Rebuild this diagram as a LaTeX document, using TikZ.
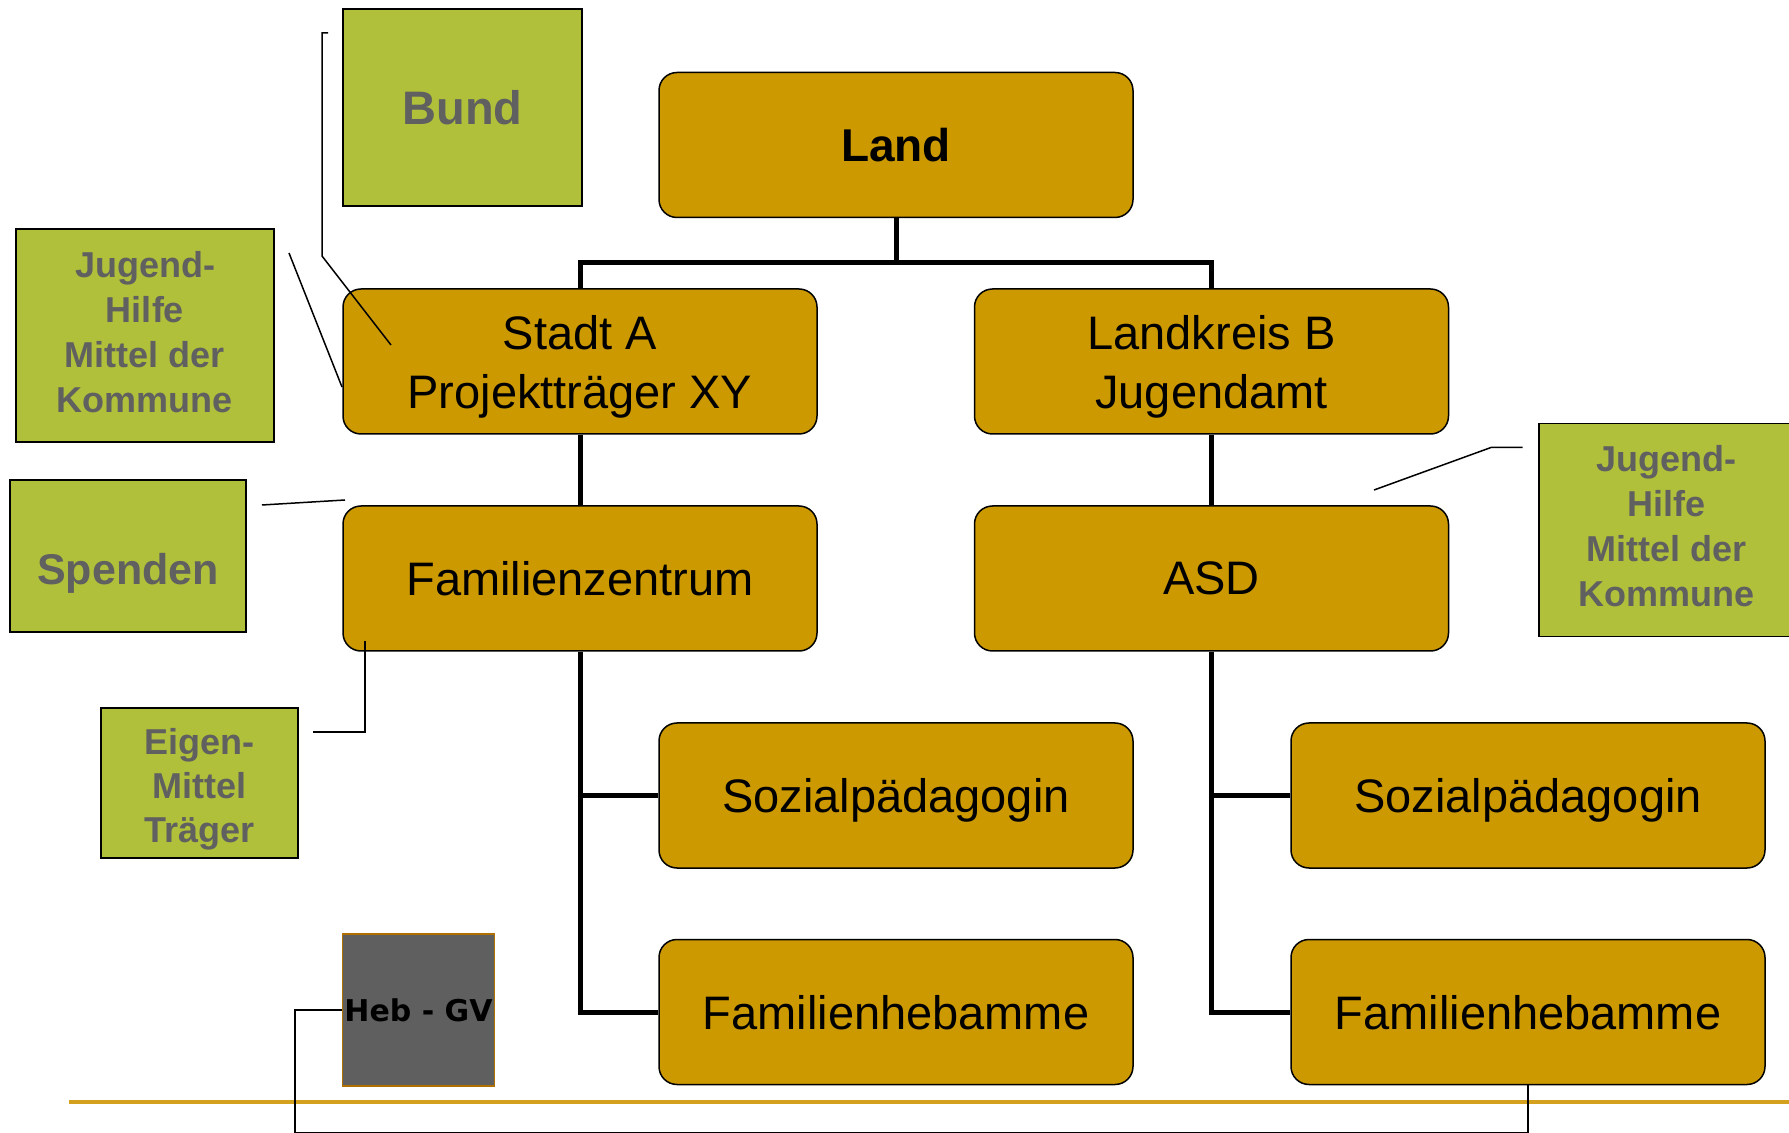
\documentclass[tikz,border=0pt]{standalone}
\usepackage{fontspec}
\setmainfont{Liberation Sans}
\newfontfamily\hebfont{DejaVu Sans}
\definecolor{orgfill}{RGB}{204,153,0}
\definecolor{grnfill}{RGB}{176,192,58}
\definecolor{grntext}{RGB}{96,96,96}
\definecolor{hebfill}{RGB}{95,95,95}
\definecolor{hebdraw}{RGB}{176,112,0}
\definecolor{rule}{RGB}{212,161,30}
\tikzset{
  orgbox/.style={draw=black, line width=0.75pt, fill=orgfill, rounded corners=9pt,
    minimum width=237pt, minimum height=72.5pt, inner sep=0pt, align=center, text depth=0pt,
    font=\fontsize{23.5pt}{29.5pt}\selectfont},
  grnbox/.style={draw=black, line width=0.75pt, fill=grnfill, inner sep=0pt, align=center,
    text=grntext, font=\fontsize{18pt}{22.5pt}\selectfont\bfseries},
  grntxt/.style={inner sep=0pt, align=center, text=grntext,
    font=\fontsize{18pt}{22.5pt}\selectfont\bfseries},
  tree/.style={draw=black, line width=2.5pt, line join=miter},
  callout/.style={draw=black, line width=0.75pt},
}
\begin{document}
\begin{tikzpicture}[x=0.5pt,y=-0.5pt]
\clip (0,0) rectangle (1789,1133);
\fill[white] (0,0) rectangle (1789,1133);

% main organisation boxes
\node[orgbox, font=\fontsize{23pt}{28pt}\selectfont\bfseries] (land) at (896,145) {Land};
\node[orgbox] (stadt) at (580,361.5) {Stadt A\\Projektträger XY};
\node[orgbox] (kreis) at (1211.5,361.5) {Landkreis B\\Jugendamt};
\node[orgbox] (fz) at (580,578.5) {Familienzentrum};
\node[orgbox] (asd) at (1211.5,578.5) {ASD};
\node[orgbox] (sozL) at (896,795.5) {Sozialpädagogin};
\node[orgbox] (sozR) at (1528,795.5) {Sozialpädagogin};
\node[orgbox] (famL) at (896,1012) {Familienhebamme};
\node[orgbox] (famR) at (1528,1012) {Familienhebamme};

% tree connectors
\coordinate (j) at (896,263);
\draw[tree] (land.south) -- (j);
\draw[tree] (stadt.north) |- (j) -| (kreis.north);
\draw[tree] (stadt.south) -- (fz.north);
\draw[tree] (kreis.south) -- (asd.north);
\draw[tree] (fz.south) |- (famL.west);
\draw[tree] (fz.south |- sozL.west) -- (sozL.west);
\draw[tree] (asd.south) |- (famR.west);
\draw[tree] (asd.south |- sozR.west) -- (sozR.west);

% funding boxes
\node[grnbox, minimum width=119.5pt, minimum height=98.5pt,
  font=\fontsize{23.5pt}{28pt}\selectfont\bfseries] (bund) at (462.5,107.5) {Bund};
\node[grnbox, minimum width=129pt, minimum height=106.5pt,
  label={[grntxt, yshift=1.75pt]center:Jugend-\\Hilfe\\Mittel der\\Kommune}]
  (jugL) at (145,335.5) {};
\node[grnbox, minimum width=118pt, minimum height=76pt,
  label={[grntxt, font=\fontsize{21.5pt}{26pt}\selectfont\bfseries, yshift=-8.5pt]center:Spenden}]
  (spenden) at (128,556) {};
\node[grnbox, minimum width=98.5pt, minimum height=75pt,
  label={[grntxt, font=\fontsize{18pt}{22pt}\selectfont\bfseries, yshift=-3pt]center:Eigen-\\Mittel\\Träger}]
  (eigen) at (199.5,783) {};
\node[grnbox, minimum width=128pt, minimum height=106.5pt, anchor=north west,
  label={[grntxt, yshift=2.25pt]center:Jugend-\\Hilfe\\Mittel der\\Kommune}]
  (jugR) at (1538,423) {};
\node[draw=hebdraw, line width=0.75pt, fill=hebfill, minimum width=76pt, minimum height=76pt,
  inner sep=0pt, font=\hebfont\fontsize{15pt}{18pt}\selectfont\bfseries] (heb) at (418.5,1010) {Heb - GV};

% callout lines
\coordinate (b1) at (328,33);
\coordinate (b2) at (322,33);
\coordinate (b3) at (322,256);
\coordinate (b4) at (391,345);
\draw[callout] (b1) -- (b2) -- (b3) -- (b4);
\coordinate (jl1) at (289,253);
\coordinate (jl2) at (342,387);
\draw[callout] (jl1) -- (jl2);
\coordinate (s1) at (262,505);
\coordinate (s2) at (345,500);
\draw[callout] (s1) -- (s2);
\coordinate (e1) at (313,732);
\coordinate (e2) at (365,732);
\coordinate (e3) at (365,641);
\draw[callout] (e1) -- (e2) -- (e3);
\coordinate (r1) at (1522.5,447.5);
\coordinate (r2) at (1491,447.5);
\coordinate (r3) at (1374,490);
\draw[callout] (r1) -- (r2) -- (r3);

% bottom rule
\coordinate (ruleL) at (69,1102);
\coordinate (ruleR) at (1789,1102);
\draw[rule, line width=2pt] (ruleL) -- (ruleR);

% Heb - GV connector
\draw[callout] (heb.west) -| (295,1132.5) -| (famR.south);
\end{tikzpicture}
\end{document}
